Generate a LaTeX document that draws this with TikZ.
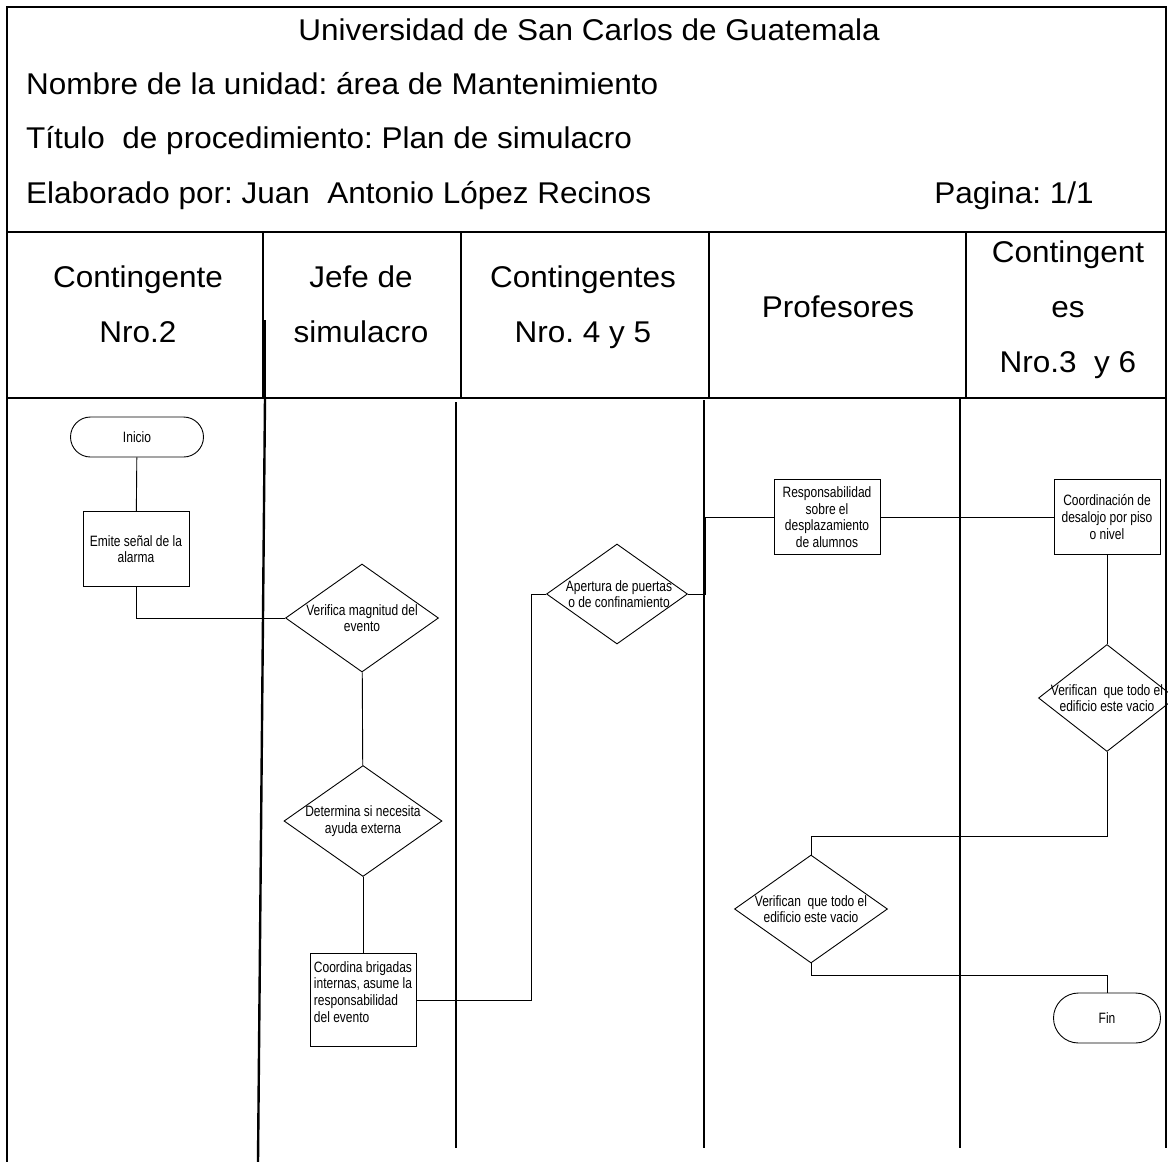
\documentclass[tikz,border=0pt]{standalone}
\usepackage{fontspec}
\setmainfont{Liberation Sans}[FakeStretch=1.05]
\newfontfamily\flowfont{Liberation Sans}[FakeStretch=0.8]
\usetikzlibrary{shapes.geometric}
\frenchspacing

\begin{document}
\begin{tikzpicture}[
    x=1pt, y=-1pt,
    every node/.style={inner sep=0pt},
    hdrtext/.style={font=\fontsize{30}{55}\selectfont},
    lanetext/.style={hdrtext, align=center},
    frame/.style={line width=2.4pt},
    flow/.style={line width=0.9pt},
    flowtext/.style={font=\flowfont\fontsize{15}{16.7}\selectfont, align=center},
    termbox/.style={draw, flow, flowtext, rounded corners=20pt,
        minimum width=133pt, minimum height=40pt},
    procbox/.style={draw, flow, flowtext,
        minimum width=106pt, minimum height=75pt},
    decbox/.style={draw, flow, diamond,
        minimum width=153pt, minimum height=108pt}
]
\useasboundingbox (0,0) rectangle (1168,1162);

% Encabezado
\draw[frame] (7,7) rectangle (1166,398);
\draw[frame] (7,232) -- (1166,232);
\draw[frame] (263,232) -- (263,398);
\draw[frame] (265,320) -- (265,398);
\draw[frame] (461,232) -- (461,398);
\draw[frame] (709,232) -- (709,398);
\draw[frame] (966,232) -- (966,398);

\node[hdrtext, anchor=base] (univ) at (589,40) {Universidad de San Carlos de Guatemala};
\node[hdrtext, anchor=base west] (unidad) at (26,94) {Nombre de la unidad: área de Mantenimiento};
\node[hdrtext, anchor=base west] (titulo) at (26,148) {Título\ \ de procedimiento: Plan de simulacro};
\node[hdrtext, anchor=base west] (elab) at (26,203) {Elaborado por: Juan\ \ Antonio López Recinos};
\node[hdrtext, anchor=base east] (pagina) at (1094,203) {Pagina: 1/1};

% Carriles
\node[lanetext] (laneA) at (138,304) {Contingente\\Nro.2};
\node[lanetext] (laneB) at (361,304) {Jefe de\\simulacro};
\node[lanetext] (laneC) at (583,307) {Contingentes\\Nro. 4 y 5};
\node[lanetext] (laneD) at (838,307) {Profesores};
\node[lanetext] (laneE) at (1068,310) {Contingent\\es\\Nro.3\ \ y 6};

\draw[frame] (7,398) -- (7,1162);
\draw[frame] (265,398) -- (258,1162);
\draw[frame] (456,402) -- (456,1148);
\draw[frame] (704,400) -- (704,1148);
\draw[frame] (960,398) -- (960,1148);
\draw[frame] (1166,398) -- (1166,1148);

% Pasos
\node[termbox] (inicio) at (137,437) {Inicio};
\node[procbox] (emite) at (136,549) {Emite señal de la\\alarma};
\node[decbox] (verifmag) at (362,618) {};
\node[flowtext] (verifmag-t) at (verifmag) {Verifica magnitud del\\evento};
\node[decbox, minimum width=158pt, minimum height=111pt] (determina) at (363,821) {};
\node[flowtext] (determina-t) at (determina) {Determina si necesita\\ayuda externa};
\node[procbox, minimum height=93pt, align=left] (coordina) at (363,1000)
    {Coordina brigadas\\internas, asume la\\responsabilidad\\del evento\\\mbox{}};
\node[decbox, minimum width=141pt, minimum height=100pt] (apertura) at (617,594) {};
\node[flowtext] (apertura-t) at (619,594) {Apertura de puertas\\o de confinamiento};
\node[procbox] (respons) at (827,517) {Responsabilidad\\sobre el\\desplazamiento\\de alumnos};
\node[procbox] (desalojo) at (1107,517) {Coordinación de\\desalojo por piso\\o nivel};
\node[decbox, minimum width=137pt, minimum height=107pt] (vacioA) at (1107,698) {};
\node[flowtext] (vacioA-t) at (1107,698) {Verifican\ \ que todo el\\edificio este vacio};
\node[decbox] (vacioB) at (811,909) {};
\node[flowtext] (vacioB-t) at (811,909) {Verifican\ \ que todo el\\edificio este vacio};
\node[termbox, minimum width=107pt, minimum height=50pt, rounded corners=25pt] (fin) at (1107,1018) {Fin};

% Conectores
\draw[flow] (inicio) -- (emite);
\draw[flow] (emite.south) |- (verifmag.west);
\draw[flow] (verifmag) -- (determina);
\draw[flow] (determina) -- (coordina);
\draw[flow] (coordina.east) -- ++(115,0) |- (apertura.west);
\draw[flow] (apertura.east) -- ++(17,0) |- (respons.west);
\draw[flow] (respons) -- (desalojo);
\draw[flow] (desalojo) -- (vacioA);
\draw[flow] (vacioA.south) -- ++(0,84) -| (vacioB.north);
\draw[flow] (vacioB.south) -- ++(0,12) -| (fin.north);

\end{tikzpicture}
\end{document}
